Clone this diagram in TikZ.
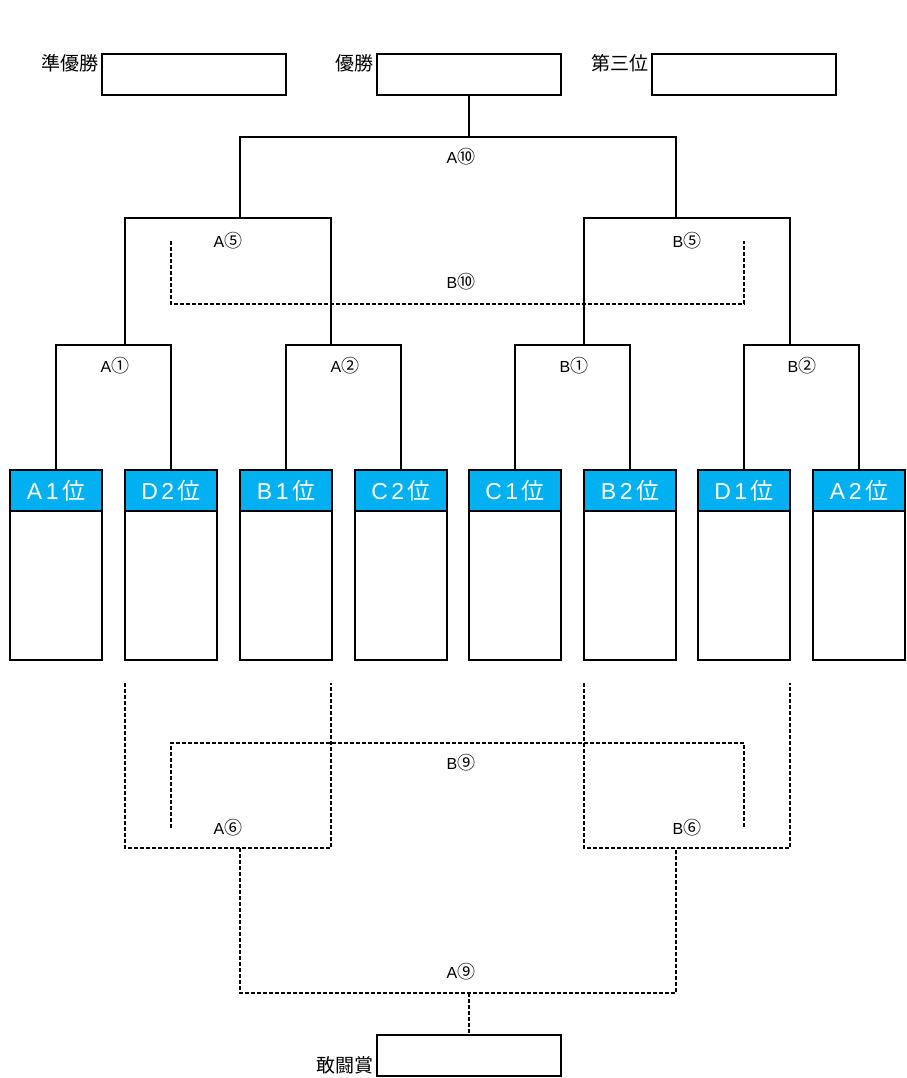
\documentclass[tikz,border=0pt]{standalone}
\usepackage{fontspec}
\setmainfont{Liberation Sans}
\newfontfamily\jp{Noto Sans CJK JP}
\definecolor{hdr}{HTML}{00B0F0}
\newcommand{\teamlab}[2]{#1\kern3.5pt#2\kern3.5pt{\jp 位}}
\newcommand{\circnum}[1]{{\jp\fontsize{18}{18}\selectfont #1}}
\begin{document}
\begin{tikzpicture}[x=1pt,y=-1pt,
  conn/.style={line width=1.6pt},
  dconn/.style={line width=1.5pt,dash pattern=on 4pt off 2pt},
  prize/.style={draw,line width=1.8pt,minimum width=184pt,minimum height=41pt,inner sep=0pt},
  plabel/.style={font=\jp\fontsize{19}{19}\selectfont,inner sep=1pt},
  team/.style={draw,line width=1.8pt,minimum width=92pt,minimum height=190pt,inner sep=0pt},
  thead/.style={draw,line width=1.8pt,fill=hdr,text=white,minimum width=92pt,minimum height=41pt,inner sep=0pt,font=\fontsize{23}{23}\selectfont},
  mlabel/.style={font=\fontsize{16}{16}\selectfont,inner sep=0pt}
]
\useasboundingbox (0,0) rectangle (906,1078);
% prize boxes
\node[prize] (second) at (194,74.5) {};
\node[prize] (win) at (469,74.5) {};
\node[prize] (third) at (744,74.5) {};
\node[prize] (kanto) at (469,1055.5) {};
\node[plabel,anchor=east] (lsecond) at (100,63) {準優勝};
\node[plabel,anchor=east] (lwin) at (375,63) {優勝};
\node[plabel,anchor=east] (lthird) at (650,63) {第三位};
\node[plabel,anchor=east] (lkanto) at (375,1065) {敢闘賞};
% team boxes
\foreach \n/\x/\a/\b in {1/56/A/1,2/171/D/2,3/286/B/1,4/401/C/2,5/515/C/1,6/630/B/2,7/744/D/1,8/859/A/2}{
  \node[team] (t\n) at (\x,565) {};
  \node[thead] (h\n) at (\x,490.5) {\teamlab{\a}{\b}};
}
% match coordinates
\coordinate (mA1) at (113.5,345);
\coordinate (mA2) at (343.5,345);
\coordinate (mB1) at (572.5,345);
\coordinate (mB2) at (801.5,345);
\coordinate (a5l) at (125,345); \coordinate (a5r) at (331,345); \coordinate (mA5) at (228,218);
\coordinate (b5l) at (584,345); \coordinate (b5r) at (790,345); \coordinate (mB5) at (687,218);
\coordinate (a10l) at (240,218); \coordinate (a10r) at (676,218); \coordinate (mA10) at (469,137);
\coordinate (b10l) at (171,241); \coordinate (b10r) at (744,241); \coordinate (mB10) at (457,304);
\coordinate (a6l) at (125,683); \coordinate (a6r) at (331,683); \coordinate (mA6) at (228,848);
\coordinate (b6l) at (584,683); \coordinate (b6r) at (790,683); \coordinate (mB6) at (687,848);
\coordinate (b9l) at (171,828); \coordinate (b9r) at (744,828); \coordinate (mB9) at (457,743);
\coordinate (a9l) at (240,848); \coordinate (a9r) at (676,848); \coordinate (mA9) at (469,993);
% solid brackets
\draw[conn] (h1.north) |- (mA1) -| (h2.north);
\draw[conn] (h3.north) |- (mA2) -| (h4.north);
\draw[conn] (h5.north) |- (mB1) -| (h6.north);
\draw[conn] (h7.north) |- (mB2) -| (h8.north);
\draw[conn] (a5l) |- (mA5) -| (a5r);
\draw[conn] (b5l) |- (mB5) -| (b5r);
\draw[conn] (a10l) |- (mA10) -| (a10r);
\draw[conn] (mA10) -- (win.south);
% dashed brackets
\draw[dconn] (b10l) |- (mB10) -| (b10r);
\draw[dconn] (a6l) |- (mA6) -| (a6r);
\draw[dconn] (b6l) |- (mB6) -| (b6r);
\draw[dconn] (b9l) |- (mB9) -| (b9r);
\draw[dconn] (a9l) |- (mA9) -| (a9r);
\draw[dconn] (mA9) -- (kanto.north);
% match labels
\node[mlabel] (lA10) at (461,157) {A\circnum{⑩}};
\node[mlabel] (lA5) at (228,241) {A\circnum{⑤}};
\node[mlabel] (lB5) at (687,241) {B\circnum{⑤}};
\node[mlabel] (lB10) at (461,282) {B\circnum{⑩}};
\node[mlabel] (lA1) at (115,366) {A\circnum{①}};
\node[mlabel] (lA2) at (345,366) {A\circnum{②}};
\node[mlabel] (lB1) at (574,366) {B\circnum{①}};
\node[mlabel] (lB2) at (802,366) {B\circnum{②}};
\node[mlabel] (lB9) at (461,763) {B\circnum{⑨}};
\node[mlabel] (lA6) at (228,828) {A\circnum{⑥}};
\node[mlabel] (lB6) at (687,828) {B\circnum{⑥}};
\node[mlabel] (lA9) at (461,972) {A\circnum{⑨}};
\end{tikzpicture}
\end{document}
